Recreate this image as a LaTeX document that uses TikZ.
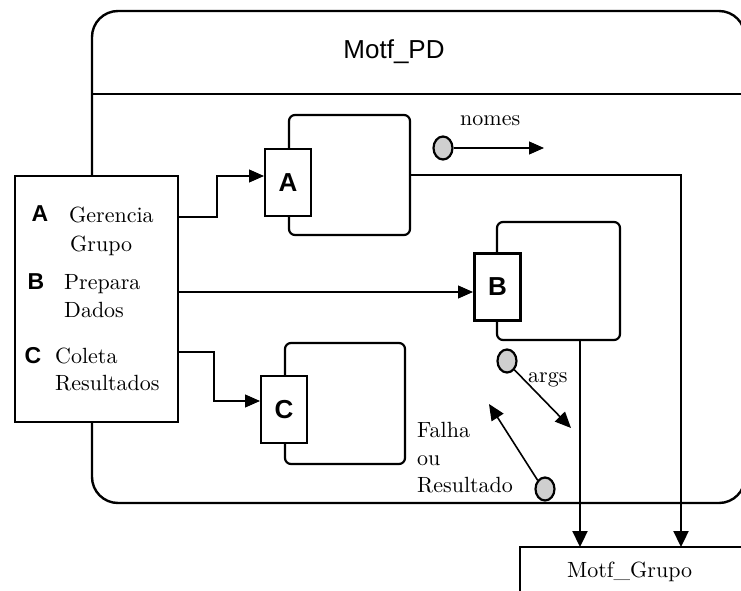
\documentclass[tikz,border=0pt]{standalone}
\usepackage{fontspec}
\newfontfamily\hel{Liberation Sans}
\newfontfamily\lmten{lmroman10-regular.otf}
\usetikzlibrary{arrows.meta,shapes.geometric}
\begin{document}
\begin{tikzpicture}[x=1pt,y=-1pt,
  serif/.style={font=\lmten\fontsize{22}{24}\selectfont, inner sep=0pt, anchor=base west},
  letter/.style={font=\hel\bfseries\fontsize{23}{26}\selectfont, inner sep=0pt},
  portletter/.style={font=\hel\bfseries\fontsize{26}{28}\selectfont},
  port/.style={draw, line width=2.2pt, fill=white, minimum width=46pt, minimum height=67pt, inner sep=0pt},
  module/.style={draw, line width=2.2pt, rounded corners=6pt, inner sep=0pt},
  thinconn/.style={line width=1.1pt, -{Triangle[length=15pt,width=13pt]}},
  thickconn/.style={line width=2.3pt, -{Triangle[length=16pt,width=15pt]}},
  token/.style={ellipse, draw, line width=2.2pt, fill=gray!38, minimum width=19pt, minimum height=23pt, inner sep=0pt},
]
\useasboundingbox (0,0) rectangle (741,591);
\begin{scope}
\clip (0,0) rectangle (741,591);
% outer process box
\draw[line width=2.4pt, rounded corners=26pt] (92,503) -- (92,11) -- (745,11) -- (745,503) -- cycle;
\draw[line width=2.4pt] (92,94) -- (745,94);
\node[font=\hel\fontsize{26}{28}\selectfont] (title) at (394,52) {Motf\_PD};

% left box
\node[draw, line width=2.4pt, fill=white, minimum width=163pt, minimum height=246pt] (left) at (96.5,299) {};
\node[letter] (la) at (40,214) {A};
\node[serif] (t1) at (69,222) {Gerencia};
\node[serif] (t2) at (70,251) {Grupo};
\node[letter] (lb) at (36,282) {B};
\node[serif] (t3) at (64,289) {Prepara};
\node[serif] (t4) at (64,317) {Dados};
\node[letter] (lc) at (33,356) {C};
\node[serif] (t5) at (55,363) {Coleta};
\node[serif] (t6) at (55,390) {Resultados};

% modules
\node[module, minimum width=121pt, minimum height=120pt] (mA) at (349.5,175) {};
\node[port] (pA) at (288,182.5) {};
\node[portletter] (lA) at (pA) {A};

\node[module, minimum width=123pt, minimum height=118pt] (mB) at (558.5,281) {};
\node[port] (pB) at (497.5,287) {};
\node[portletter] (lB) at (pB) {B};

\node[module, minimum width=120pt, minimum height=121pt] (mC) at (345,403.5) {};
\node[port] (pC) at (284,409.5) {};
\node[portletter] (lC) at (pC) {C};

% Motf_Grupo box
\draw[line width=2.3pt, fill=white] (520,600) -- (520,547) -- (750,547) -- (750,600);
\node[serif] (grp) at (567,577) {Motf\_Grupo};

% connectors from left box
\coordinate (a1) at (178,217);
\coordinate (a2) at (217,217);
\coordinate (a3) at (264,176);
\draw[thinconn] (a1) -- (a2) |- (a3);
\coordinate (b1) at (178,292);
\coordinate (b2) at (473,292);
\draw[thinconn] (b1) -- (b2);
\coordinate (c1) at (178,352);
\coordinate (c2) at (214,352);
\coordinate (c3) at (260,401);
\draw[thinconn] (c1) -- (c2) |- (c3);

% to Motf_Grupo
\coordinate (g1) at (681,547);
\draw[thickconn] (mA.east) -| (g1);
\coordinate (m2) at (580,340);
\coordinate (g2) at (580,547);
\draw[thickconn] (m2) -- (g2);

% tokens
\node[token] (tn) at (443,148) {};
\node[serif] (nomes) at (460,125) {nomes};
\coordinate (n2) at (544,148);
\draw[thinconn] (tn.east) -- (n2);

\node[token] (ta) at (507,361) {};
\node[serif] (args) at (528,382) {args};
\coordinate (a9) at (571,428);
\draw[line width=1.6pt, -{Triangle[length=16pt,width=14pt]}] (ta.south east) -- (a9);

\node[token] (tf) at (545,489) {};
\node[serif] (f1) at (417,437) {Falha};
\node[serif] (f2) at (417,465) {ou};
\node[serif] (f3) at (417,492) {Resultado};
\coordinate (f9) at (489,404);
\draw[line width=1.6pt, -{Triangle[length=16pt,width=14pt]}] (tf.north west) -- (f9);
\end{scope}
\end{tikzpicture}
\end{document}
